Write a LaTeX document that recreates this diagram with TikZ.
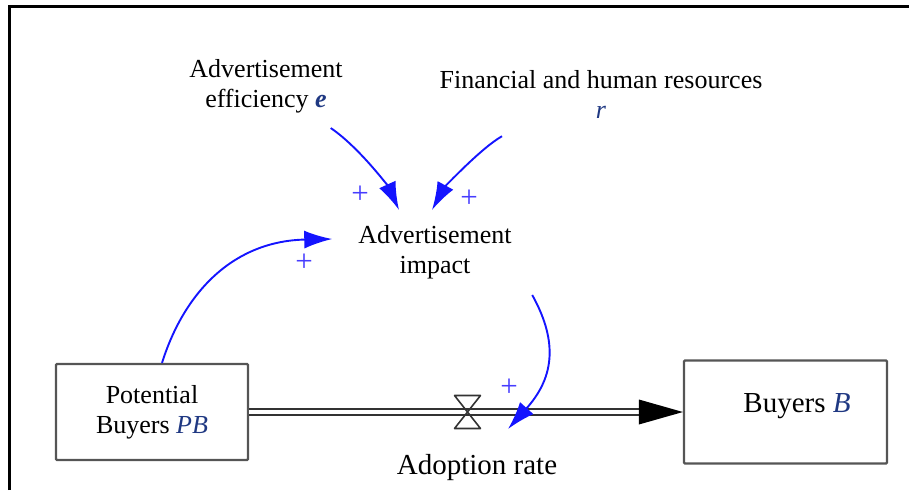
\documentclass[tikz,border=0pt]{standalone}
\usepackage{fontspec}
\setmainfont{Liberation Serif}
\usetikzlibrary{arrows.meta,calc}
\definecolor{varblue}{RGB}{31,56,130}
\definecolor{linkblue}{RGB}{20,20,255}
\definecolor{plusblue}{RGB}{70,60,255}
\definecolor{stockgray}{RGB}{85,85,85}
\begin{document}
\begin{tikzpicture}[x=1pt,y=-1pt,
	txt/.style={inner sep=0pt,align=center,font=\fontsize{26}{30}\selectfont},
	bigtxt/.style={inner sep=0pt,font=\fontsize{29}{34}\selectfont},
	stock/.style={draw=stockgray,line width=2.2pt,rounded corners=1pt,inner sep=0pt},
	link/.style={draw=linkblue,line width=1.9pt,-{Latex[length=28pt,width=18pt]}},
	plus/.style={inner sep=0pt,text=plusblue,font=\fontsize{31}{31}\selectfont},
	pipe/.style={draw=black!80,line width=2.1pt,double=white,double distance=4.6pt}]
				\useasboundingbox (0,0) rectangle (909,490);
				\draw[line width=3pt] (9,490) -- (9,6) -- (909,6);
				
				\node[txt] (AE) at (266,86) {Advertisement\\ efficiency \textcolor{varblue}{\textbf{\textit{e}}}};
				\node[txt] (FR) at (601,94) {Financial and human resources\\ \textcolor{varblue}{\textit{r}}};
				\node[txt] (AI) at (435,252) {Advertisement\\ impact};
				
				\node[stock,txt,minimum width=192pt,minimum height=96pt] (PB) at (152,412) {Potential\\ Buyers \textcolor{varblue}{\textit{PB}}};
				\node[stock,minimum width=203pt,minimum height=103pt] (B) at (785.5,412) {};
				\node[bigtxt] (Bt) at (797,406) {Buyers \textcolor{varblue}{\textit{B}}};
				\node[bigtxt] (AR) at (477,468) {Adoption rate};
				
				% flow
				\draw[pipe] (PB.east) -- ([xshift=-42pt]B.west);
				\fill[black] (B.west) -- ++(-44,-12.5) -- ++(0,25) -- cycle;
				\coordinate (valve) at (467.5,412);
				\draw[draw=black!80,line width=1.6pt,line join=round] ($(valve)+(-13,-16.5)$) -- ++(26,0) -- ++(-26,33) -- ++(26,0) -- cycle;
				
				% links
				\draw[link] ([shift={(-12,15)}]AE.south east) .. controls (360,148) and (389,188) .. ([shift={(-36,-15)}]AI.north);
				\draw[link] ([shift={(-99,18)}]FR.south) .. controls (481,148) and (444,188) .. ([shift={(-3,-15)}]AI.north);
				\draw[link] ([xshift=10pt]PB.north) .. controls (185,290) and (235,241) .. ([shift={(-26,-13)}]AI.west);
				\draw[link] ([shift={(20.5,16)}]AI.south east) .. controls (560,345) and (552,380) .. ([shift={(40.5,17)}]valve);
				
				\node[plus] (p1) at (360,195) {+};
				\node[plus] (p2) at (469,199) {+};
				\node[plus] (p3) at (304,263) {+};
				\node[plus] (p4) at (509,388) {+};
				\end{tikzpicture}
\end{document}
